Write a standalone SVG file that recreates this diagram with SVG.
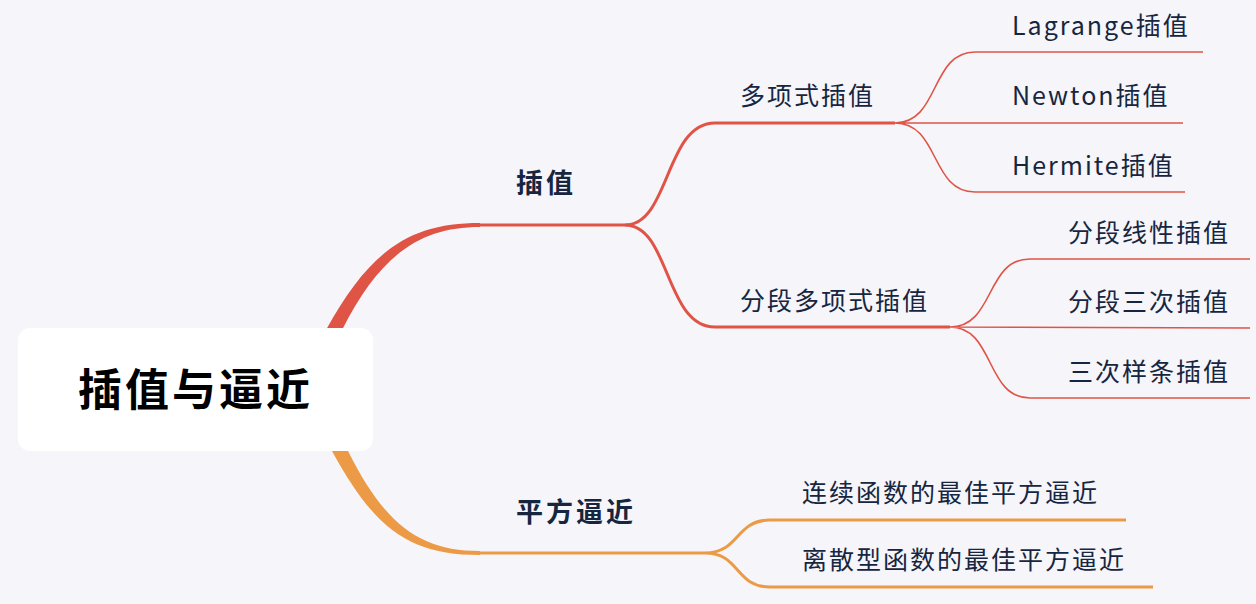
<svg xmlns="http://www.w3.org/2000/svg" width="1256" height="604" viewBox="0 0 1256 604">
<style>
text{font-family:"Noto Sans CJK SC","Noto Sans",sans-serif;fill:#172640}
.t{font-size:25px;letter-spacing:2px}
.b{font-size:27px;font-weight:bold;letter-spacing:3px}
.r{fill:none;stroke:#e05445}
.o{fill:none;stroke:#ec9a45}
</style>
<rect width="1256" height="604" fill="#f5f5fa"/>
<g id="connectors">
<path d="M326 330 C370 250 410 223 480 223 L480 227 C420 227 380 255 342 330 Z" fill="#e05445"/>
<path class="r" stroke-width="3" d="M478 225 L625 225 C670 225 665 123 715 123 L895 123"/>
<path class="r" stroke-width="3" d="M625 225 C670 225 665 327 715 327 L950 327"/>
<path class="r" stroke-width="1.6" d="M895 123 C940 123 930 52 975 52 L1203 52 M895 123 L1183 123 M895 123 C940 123 930 192 975 192 L1185 192"/>
<path class="r" stroke-width="1.6" d="M950 327 C995 327 985 259 1030 259 L1250 259 M950 327 L1250 328 M950 327 C995 327 985 398 1030 398 L1250 398"/>
<path d="M332 451 C375 530 410 555 480 555 L480 551 C420 551 385 525 348 451 Z" fill="#ec9a45"/>
<path class="o" stroke-width="3" d="M478 553 L705 553 C740 553 735 520 770 520 L1126 520 M705 553 C740 553 735 587 770 587 L1153 587"/>
</g>
<g id="root"><rect x="18" y="328" width="355" height="123" rx="12" fill="#fff"/><text x="78" y="406" style="font-size:44px;font-weight:bold;fill:#000;letter-spacing:3px">插值与逼近</text></g>
<g id="n1"><text class="b" x="516" y="193">插值</text></g>
<g id="n2"><text class="b" x="516" y="522">平方逼近</text></g>
<g id="n11"><text class="t" x="740" y="105">多项式插值</text></g>
<g id="n12"><text class="t" x="740" y="310">分段多项式插值</text></g>
<g id="l1"><text class="t" x="1012" y="35">Lagrange插值</text></g>
<g id="l2"><text class="t" x="1012" y="105">Newton插值</text></g>
<g id="l3"><text class="t" x="1012" y="175">Hermite插值</text></g>
<g id="l4"><text class="t" x="1068" y="242">分段线性插值</text></g>
<g id="l5"><text class="t" x="1068" y="311">分段三次插值</text></g>
<g id="l6"><text class="t" x="1068" y="381">三次样条插值</text></g>
<g id="l7"><text class="t" x="802" y="502">连续函数的最佳平方逼近</text></g>
<g id="l8"><text class="t" x="802" y="569">离散型函数的最佳平方逼近</text></g>
</svg>
